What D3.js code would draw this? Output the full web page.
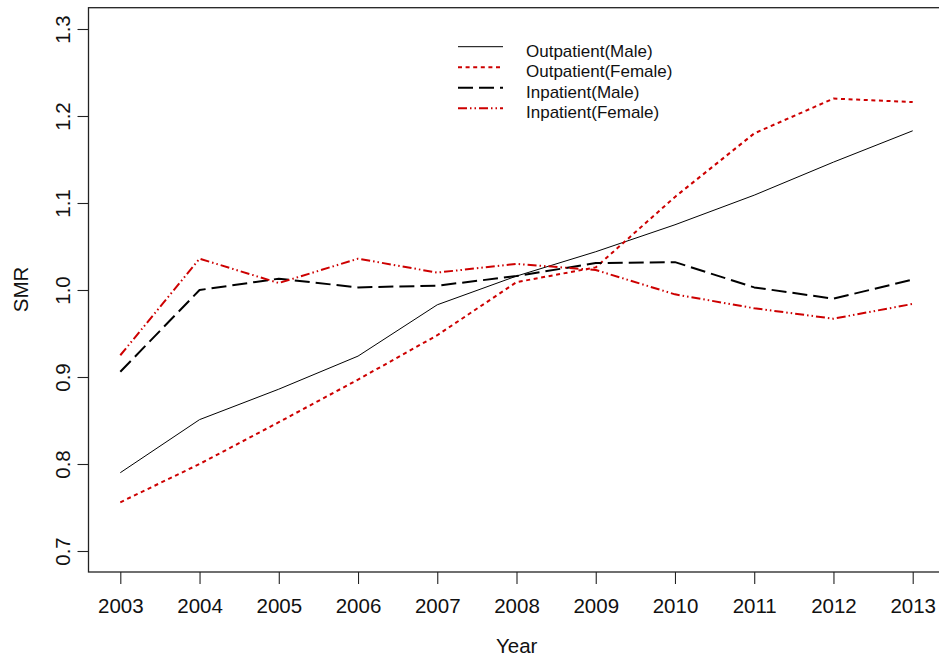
<!DOCTYPE html>
<html>
<head>
<meta charset="utf-8">
<script src="https://cdn.jsdelivr.net/npm/d3@7"></script>
<style>
  html, body { margin: 0; padding: 0; background: #fff; }
  svg { display: block; font-family: "Liberation Sans", Arial, Helvetica, sans-serif; }
</style>
</head>
<body>
<svg id="chart" width="939" height="659"></svg>
<script>
// Standardised mortality ratio by year, 2003-2013
const years = [2003, 2004, 2005, 2006, 2007, 2008, 2009, 2010, 2011, 2012, 2013];
const outpatientMale   = [0.790, 0.851, 0.886, 0.924, 0.983, 1.016, 1.044, 1.075, 1.109, 1.147, 1.183];
const outpatientFemale = [0.756, 0.800, 0.848, 0.897, 0.948, 1.009, 1.026, 1.107, 1.180, 1.220, 1.216];
const inpatientMale    = [0.906, 1.000, 1.013, 1.003, 1.005, 1.016, 1.031, 1.032, 1.003, 0.990, 1.012];
const inpatientFemale  = [0.925, 1.036, 1.008, 1.036, 1.020, 1.030, 1.023, 0.995, 0.979, 0.967, 0.984];
const yTicks = [0.7, 0.8, 0.9, 1.0, 1.1, 1.2, 1.3];
const seriesNames = ["Outpatient(Male)", "Outpatient(Female)", "Inpatient(Male)", "Inpatient(Female)"];

const RED = "#cd0000";
const styles = [
  { color: "#000", width: 1,   dash: null },
  { color: RED,    width: 2,   dash: "4,3.6" },
  { color: "#000", width: 2,   dash: "15,6" },
  { color: RED,    width: 2,   dash: "9,3,1.5,3,1.5,3" }
];
const seriesValues = [outpatientMale, outpatientFemale, inpatientMale, inpatientFemale];

const svg = d3.select("#chart");
const box = { left: 88.5, top: 7.7, right: 945, bottom: 572 };

const x = d3.scaleLinear().domain([2003, 2013]).range([120.3, 912.7]);
const y = d3.scaleLinear().domain([0.7, 1.3]).range([551, 29]);

// plot frame
svg.append("rect")
  .attr("x", box.left).attr("y", box.top)
  .attr("width", box.right - box.left).attr("height", box.bottom - box.top)
  .attr("fill", "none").attr("stroke", "#222").attr("stroke-width", 1.3);

// y axis ticks and rotated labels
const yAxis = d3.axisLeft(y).tickValues(yTicks).tickSize(11).tickFormat(d3.format(".1f"));
const gy = svg.append("g").attr("transform", `translate(${box.left},0)`).call(yAxis);
gy.select(".domain").remove();
gy.selectAll(".tick line").attr("stroke", "#222").attr("stroke-width", 1.1);
gy.selectAll(".tick text")
  .attr("x", null).attr("dy", null)
  .attr("transform", `translate(${70 - box.left},0) rotate(-90)`)
  .attr("text-anchor", "middle")
  .attr("font-size", 20.5).attr("fill", "#111")
  .attr("font-family", "Liberation Sans, Arial, sans-serif");

// x axis ticks and labels
const xAxis = d3.axisBottom(x).tickValues(years).tickSize(12).tickFormat(d3.format("d"));
const gx = svg.append("g").attr("transform", `translate(0,${box.bottom})`).call(xAxis);
gx.select(".domain").remove();
gx.selectAll(".tick line").attr("stroke", "#222").attr("stroke-width", 1.1);
gx.selectAll(".tick text")
  .attr("y", 41.3).attr("dy", null)
  .attr("font-size", 20.5).attr("fill", "#111")
  .attr("font-family", "Liberation Sans, Arial, sans-serif");

// axis titles
svg.append("text").attr("x", 516.7).attr("y", 653)
  .attr("text-anchor", "middle").attr("font-size", 20.5).attr("fill", "#111").text("Year");
svg.append("text").attr("transform", "translate(28.3,289.5) rotate(-90)")
  .attr("text-anchor", "middle").attr("font-size", 20.5).attr("fill", "#111").text("SMR");

// series lines
const line = d3.line().x((d, i) => x(years[i])).y(d => y(d));
seriesValues.forEach((vals, k) => {
  const s = styles[k];
  svg.append("path")
    .datum(vals)
    .attr("d", line)
    .attr("fill", "none")
    .attr("stroke", s.color)
    .attr("stroke-width", s.width)
    .attr("stroke-dasharray", s.dash)
    .attr("stroke-linejoin", "round");
});

// legend
const legend = svg.append("g");
seriesNames.forEach((name, k) => {
  const s = styles[k];
  const ly = 46.7 + k * 20.5;
  legend.append("line")
    .attr("x1", 458).attr("x2", 503).attr("y1", ly).attr("y2", ly)
    .attr("stroke", s.color).attr("stroke-width", s.width)
    .attr("stroke-dasharray", s.dash);
  legend.append("text")
    .attr("x", 526).attr("y", ly + 9.8)
    .attr("font-size", 17).attr("fill", "#111").text(name);
});
</script>
</body>
</html>
